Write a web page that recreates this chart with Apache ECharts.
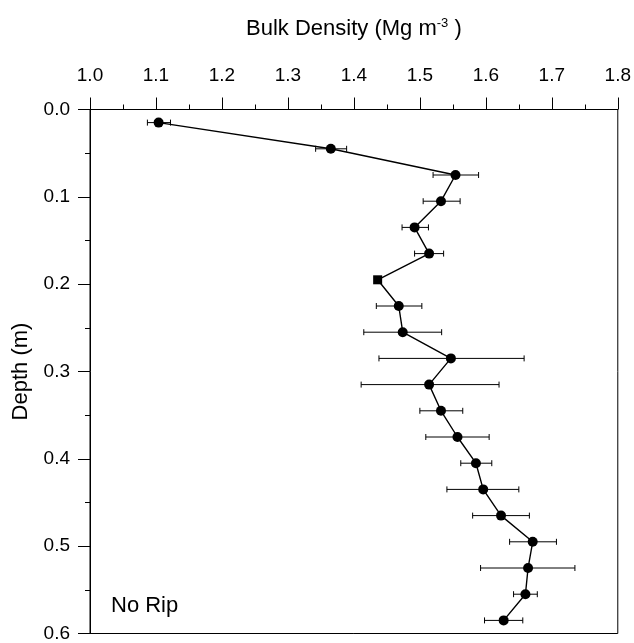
<!DOCTYPE html>
<html>
<head>
<meta charset="utf-8">
<script src="https://cdn.jsdelivr.net/npm/echarts@6/dist/echarts.min.js"></script>
<style>
  html, body { margin: 0; padding: 0; background: #fff; }
  #main { width: 634px; height: 643px; }
</style>
</head>
<body>
<div id="main"></div>
<script>
// depth of each sample (m)
var depth = [0.015, 0.045, 0.075, 0.105, 0.135, 0.165, 0.195, 0.225, 0.255, 0.285,
             0.315, 0.345, 0.375, 0.405, 0.435, 0.465, 0.495, 0.525, 0.555, 0.585];
// mean bulk density (Mg m-3)
var density = [1.104, 1.365, 1.554, 1.532, 1.492, 1.514, 1.436, 1.468, 1.474, 1.547,
               1.514, 1.532, 1.557, 1.585, 1.596, 1.623, 1.671, 1.664, 1.660, 1.627];
// error bar ends
var errLow = [1.087, 1.342, 1.520, 1.505, 1.473, 1.492, 1.436, 1.434, 1.415, 1.438,
              1.411, 1.500, 1.509, 1.562, 1.541, 1.580, 1.636, 1.592, 1.642, 1.598];
var errHigh = [1.122, 1.389, 1.589, 1.561, 1.513, 1.536, 1.436, 1.503, 1.533, 1.658,
               1.620, 1.565, 1.605, 1.609, 1.650, 1.666, 1.707, 1.735, 1.678, 1.656];
// marker shape per point (one drawn as a square in the original)
var markerShape = ['circle', 'circle', 'circle', 'circle', 'circle', 'circle', 'rect', 'circle', 'circle', 'circle',
                   'circle', 'circle', 'circle', 'circle', 'circle', 'circle', 'circle', 'circle', 'circle', 'circle'];

var chart = echarts.init(document.getElementById('main'));

var font = 'Liberation Sans, Arial, sans-serif';

var lineData = density.map(function (v, i) {
    return { value: [v, depth[i]], symbol: markerShape[i], symbolSize: markerShape[i] === 'rect' ? 9 : 10 };
});
var errData = depth.map(function (d, i) {
    return [errLow[i], errHigh[i], d];
});

var option = {
    animation: false,
    backgroundColor: '#fff',
    title: {
        text: 'No Rip',
        left: 106,
        top: 590,
        textStyle: { fontFamily: font, fontSize: 22, fontWeight: 'normal', color: '#000' }
    },
    grid: {
        left: 90,
        right: 16,
        top: 109.5,
        bottom: 2.5,
        show: true,
        borderColor: '#000',
        borderWidth: 1,
        backgroundColor: 'transparent'
    },
    xAxis: {
        type: 'value',
        position: 'top',
        min: 1.0,
        max: 1.8,
        interval: 0.1,
        name: '{n|Bulk Density (Mg m}{s|-3}{n| )}',
        nameLocation: 'middle',
        nameGap: 69,
        nameTextStyle: {
            rich: {
                n: { fontFamily: font, fontSize: 22, color: '#000' },
                s: { fontFamily: font, fontSize: 13, color: '#000', verticalAlign: 'top', padding: [0, 0, 11, 0] }
            }
        },
        axisLine: { show: true, lineStyle: { color: '#000', width: 1 } },
        axisTick: { show: true, length: 12, lineStyle: { color: '#000' } },
        minorTick: { show: true, splitNumber: 2, length: 5, lineStyle: { color: '#000' } },
        splitLine: { show: false },
        axisLabel: {
            margin: 24,
            fontFamily: font,
            fontSize: 19,
            color: '#000',
            formatter: function (v) { return v.toFixed(1); }
        }
    },
    yAxis: {
        type: 'value',
        inverse: true,
        min: 0,
        max: 0.6,
        interval: 0.1,
        name: 'Depth (m)',
        nameLocation: 'middle',
        nameGap: 58,
        nameTextStyle: { fontFamily: font, fontSize: 22, color: '#000' },
        axisLine: { show: true, lineStyle: { color: '#000', width: 1 } },
        axisTick: { show: true, length: 12, lineStyle: { color: '#000' } },
        minorTick: { show: true, splitNumber: 2, length: 5, lineStyle: { color: '#000' } },
        splitLine: { show: false },
        axisLabel: {
            margin: 20,
            fontFamily: font,
            fontSize: 19,
            color: '#000',
            formatter: function (v) { return v.toFixed(1); }
        }
    },
    series: [
        {
            type: 'custom',
            name: 'error',
            z: 1,
            encode: { x: [0, 1], y: 2 },
            data: errData,
            renderItem: function (params, api) {
                var lo = api.coord([api.value(0), api.value(2)]);
                var hi = api.coord([api.value(1), api.value(2)]);
                var cap = 3;
                var style = { stroke: '#000', lineWidth: 1 };
                return {
                    type: 'group',
                    children: [
                        { type: 'line', shape: { x1: lo[0], y1: lo[1], x2: hi[0], y2: hi[1] }, style: style },
                        { type: 'line', shape: { x1: lo[0], y1: lo[1] - cap, x2: lo[0], y2: lo[1] + cap }, style: style },
                        { type: 'line', shape: { x1: hi[0], y1: hi[1] - cap, x2: hi[0], y2: hi[1] + cap }, style: style }
                    ]
                };
            }
        },
        {
            type: 'line',
            name: 'No Rip',
            z: 3,
            data: lineData,
            symbol: 'circle',
            symbolSize: 10,
            itemStyle: { color: '#000' },
            lineStyle: { color: '#000', width: 1.4 }
        }
    ]
};

chart.setOption(option);
</script>
</body>
</html>
